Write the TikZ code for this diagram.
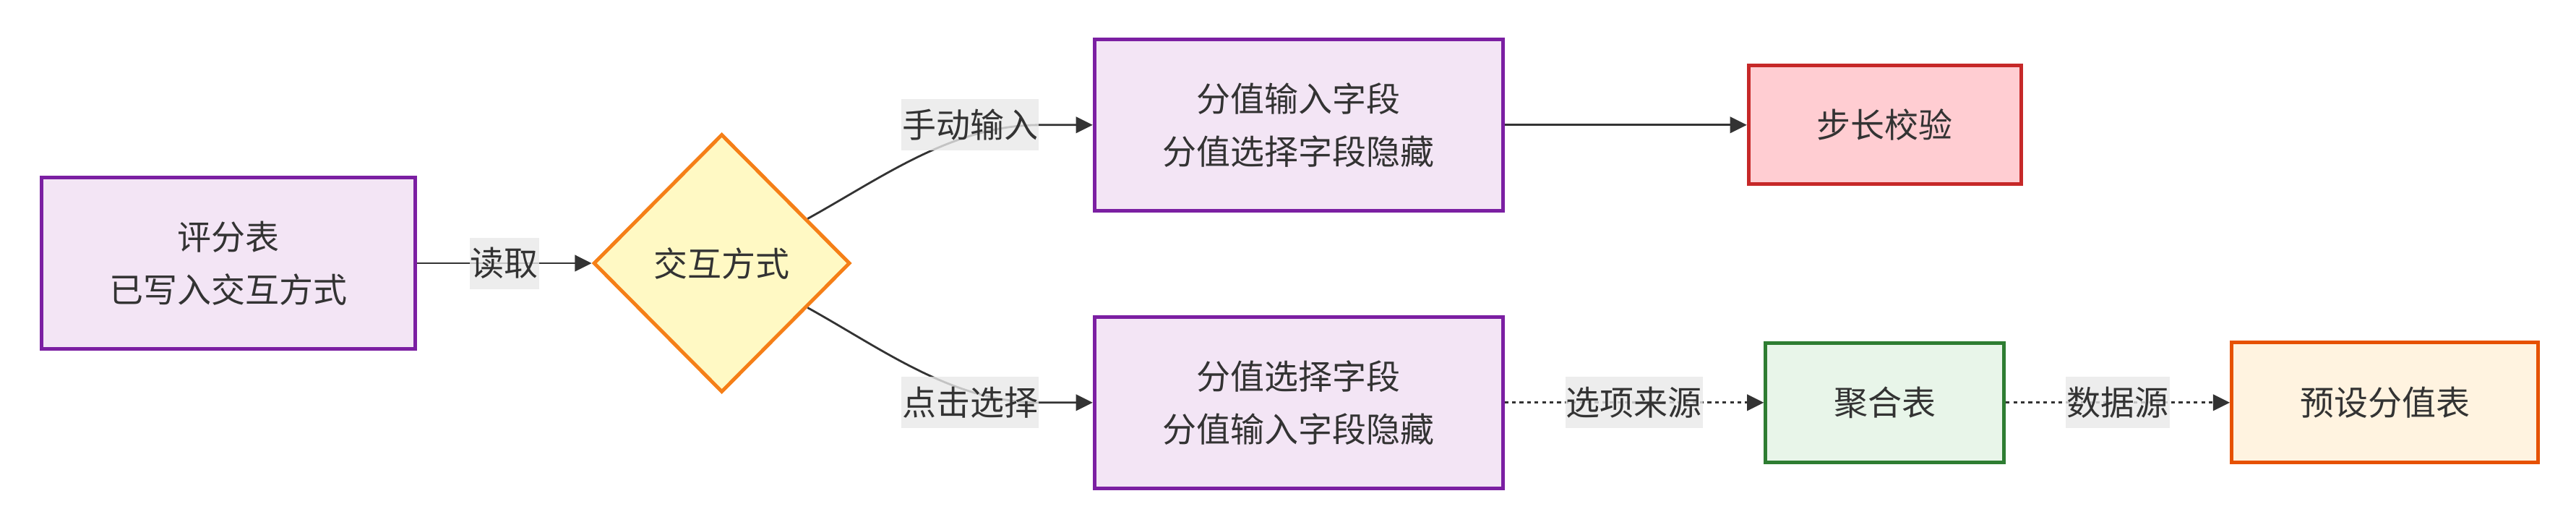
\documentclass[tikz,border=0pt]{standalone}
\usepackage{fontspec}
\newfontfamily\zhfont{Noto Sans CJK SC}
\usetikzlibrary{positioning,shapes.geometric,arrows.meta,calc}
\definecolor{ink}{HTML}{333333}
\definecolor{purplefill}{HTML}{F3E5F5}
\definecolor{purpleline}{HTML}{7B1FA2}
\definecolor{yellowfill}{HTML}{FFF9C4}
\definecolor{yellowline}{HTML}{F57F17}
\definecolor{redfill}{HTML}{FFCDD2}
\definecolor{redline}{HTML}{C62828}
\definecolor{greenfill}{HTML}{E8F5E9}
\definecolor{greenline}{HTML}{2E7D32}
\definecolor{orangefill}{HTML}{FFF3E0}
\definecolor{orangeline}{HTML}{E65100}
\definecolor{labelbg}{HTML}{E8E8E8}
\tikzset{
  every node/.style={text=ink, font=\zhfont\fontsize{11.75}{18.25}\selectfont},
  box/.style={draw, line width=1.25pt, inner xsep=23.6pt, align=center},
  tallbox/.style={box, draw=purpleline, fill=purplefill, minimum height=59.4pt},
  link/.style={draw=ink, line width=0.7pt, -{Triangle[length=5.8pt,width=5.6pt]}},
  dots/.style={link, dash pattern=on 1.3pt off 1.3pt},
  lbl/.style={fill=labelbg, fill opacity=0.8, text opacity=1, inner xsep=0.3pt, inner ysep=0pt, minimum height=17.75pt}
}

\begin{document}
\begin{tikzpicture}
  \useasboundingbox (0,0) rectangle (891pt,-183pt);
  \node[tallbox] (table) at (79pt,-91pt) {评分表\\已写入交互方式};
  \node[diamond, aspect=1, draw=yellowline, fill=yellowfill, line width=1.25pt, inner sep=0pt,
        minimum width=88.75pt, minimum height=89.25pt, right=60.3pt of table] (ask) {交互方式};
  \node[tallbox, right=83.3pt of ask, yshift=47.8pt] (manual) {分值输入字段\\分值选择字段隐藏};
  \node[tallbox, right=83.3pt of ask, yshift=-48.2pt] (click) {分值选择字段\\分值输入字段隐藏};
  \node[box, draw=redline, fill=redfill, minimum height=41pt, right=83.8pt of manual] (step) {步长校验};
  \node[box, draw=greenline, fill=greenfill, minimum height=41.2pt] (agg) at (step |- click) {聚合表};
  \node[box, draw=orangeline, fill=orangefill, minimum height=41.5pt, right=77.5pt of agg] (preset) {预设分值表};

  % ends of the two branches
  \coordinate (askup) at ($(ask.north)!0.66!(ask.east)$);
  \coordinate (askdown) at ($(ask.south)!0.66!(ask.east)$);
  \coordinate (manualin) at ($(manual.west)+(-18.25pt,0)$);
  \coordinate (clickin) at ($(click.west)+(-18.25pt,0)$);

  \draw[link] (table) -- node[lbl] {读取} (ask);
  \draw[link] (askup) .. controls +(29:30pt) and +(-30pt,0) .. (manualin) node[lbl, anchor=east] {手动输入} -- (manual);
  \draw[link] (askdown) .. controls +(-29:30pt) and +(-30pt,0) .. (clickin) node[lbl, anchor=east] {点击选择} -- (click);
  \draw[link] (manual) -- (step);
  \foreach \a/\b/\t in {click/agg/选项来源,agg/preset/数据源}{
    \draw[dots] (\a) -- node[lbl] {\t} (\b);
  }
\end{tikzpicture}
\end{document}
